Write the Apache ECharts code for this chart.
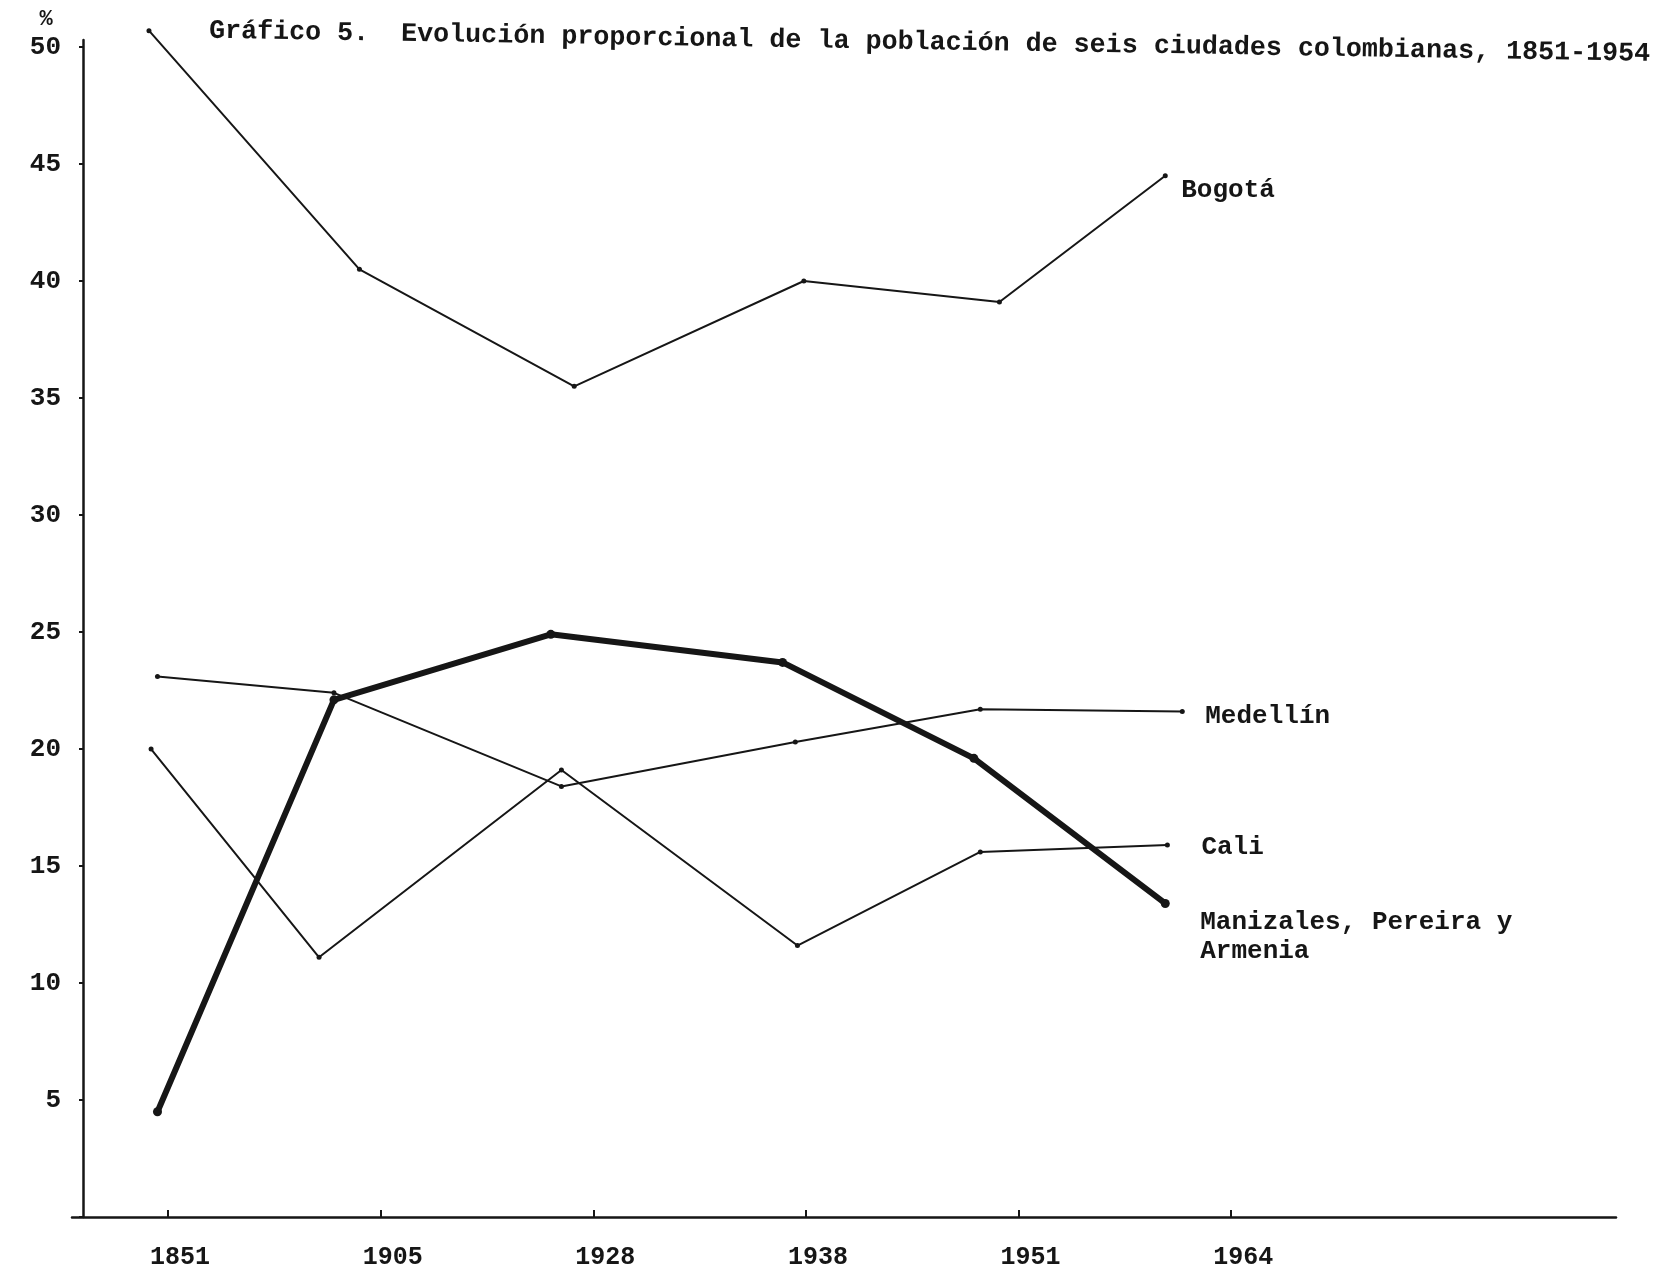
<!DOCTYPE html>
<html>
<head>
<meta charset="utf-8">
<title>Gráfico 5</title>
<script src="https://cdn.jsdelivr.net/npm/echarts@6/dist/echarts.min.js"></script>
<style>
html, body { margin: 0; padding: 0; background: #fff; }
#chart { width: 1661px; height: 1281px; }
</style>
</head>
<body>
<div id="chart"></div>
<script>
// censos (marcas del eje x) y posicion de cada marca en unidades de indice
var yearLabels = ['1851', '1905', '1928', '1938', '1951', '1964'];
var yearTicks = [0, 1, 2, 3, 4, 5];

// posicion horizontal de los puntos tal como estan dibujados (unidades de marca)
var bogotaX = [-0.09, 0.90, 1.91, 2.99, 3.91, 4.69];
var medellinX = [-0.05, 0.78, 1.85, 2.95, 3.82, 4.77];
var caliX = [-0.08, 0.71, 1.85, 2.96, 3.82, 4.70];
var manizalesX = [-0.05, 0.78, 1.80, 2.89, 3.79, 4.69];

// porcentajes
var bogota = [50.7, 40.5, 35.5, 40.0, 39.1, 44.5];
var medellin = [23.1, 22.4, 18.4, 20.3, 21.7, 21.6];
var cali = [20.0, 11.1, 19.1, 11.6, 15.6, 15.9];
var manizales = [4.5, 22.1, 24.9, 23.7, 19.6, 13.4];

var titleText = 'Gráfico 5.  Evolución proporcional de la población de seis ciudades colombianas, 1851-1954';
var font = '"Liberation Mono", "DejaVu Sans Mono", monospace';
var ink = '#161616';

function pairs(xs, ys) {
    return ys.map(function (v, i) { return [xs[i], v]; });
}

function citySeries(name, xs, ys, width, dot, label, dx, dy) {
    return {
        name: name,
        type: 'line',
        data: pairs(xs, ys),
        clip: false,
        symbol: 'circle',
        symbolSize: dot,
        itemStyle: { color: ink },
        lineStyle: { color: ink, width: width },
        endLabel: {
            show: true,
            formatter: label,
            distance: 0,
            offset: [dx, dy],
            align: 'left',
            verticalAlign: 'middle',
            fontFamily: font,
            fontWeight: 'bold',
            fontSize: 26,
            lineHeight: 29,
            color: ink
        }
    };
}

var chart = echarts.init(document.getElementById('chart'));
var option = {
    animation: false,
    backgroundColor: '#fff',
    grid: { left: 72, right: 45, top: 40, bottom: 64 },
    xAxis: {
        type: 'value',
        min: -0.452,
        max: 6.81,
        splitLine: { show: false },
        axisLine: { lineStyle: { color: ink, width: 2.5 } },
        axisTick: {
            customValues: yearTicks,
            inside: true,
            length: 7,
            lineStyle: { color: ink, width: 2 }
        },
        axisLabel: {
            customValues: yearTicks,
            formatter: function (v) { return yearLabels[Math.round(v)]; },
            margin: 28,
            padding: [0, 0, 0, 24],
            fontFamily: font,
            fontWeight: 'bold',
            fontSize: 25,
            color: ink
        }
    },
    yAxis: {
        type: 'value',
        min: 0,
        max: 50.3,
        interval: 5,
        offset: -11,
        splitLine: { show: false },
        axisLine: { show: true, onZero: false, lineStyle: { color: ink, width: 2.5 } },
        axisTick: { show: true, length: 4, lineStyle: { color: ink, width: 2 } },
        axisLabel: {
            formatter: function (v) { return v === 0 ? '' : String(v); },
            margin: 22,
            fontFamily: font,
            fontWeight: 'bold',
            fontSize: 26,
            color: ink
        }
    },
    graphic: [
        {
            type: 'text',
            x: 209,
            y: 31,
            rotation: -0.016,
            style: {
                text: titleText,
                fontFamily: font,
                fontSize: 26.7,
                fontWeight: 'bold',
                fill: ink,
                align: 'left',
                verticalAlign: 'middle'
            }
        },
        {
            type: 'text',
            x: 46,
            y: 19,
            style: {
                text: '%',
                fontFamily: font,
                fontSize: 22,
                fontWeight: 'bold',
                fill: ink,
                align: 'center',
                verticalAlign: 'middle'
            }
        }
    ],
    series: [
        citySeries('Bogotá', bogotaX, bogota, 2, 5, 'Bogotá', 16, 15),
        citySeries('Medellín', medellinX, medellin, 2, 5, 'Medellín', 23, 5),
        citySeries('Cali', caliX, cali, 2, 5, 'Cali', 34, 3),
        citySeries('Manizales', manizalesX, manizales, 6, 9, 'Manizales, Pereira y\nArmenia', 35, 34)
    ]
};
chart.setOption(option);
</script>
</body>
</html>
